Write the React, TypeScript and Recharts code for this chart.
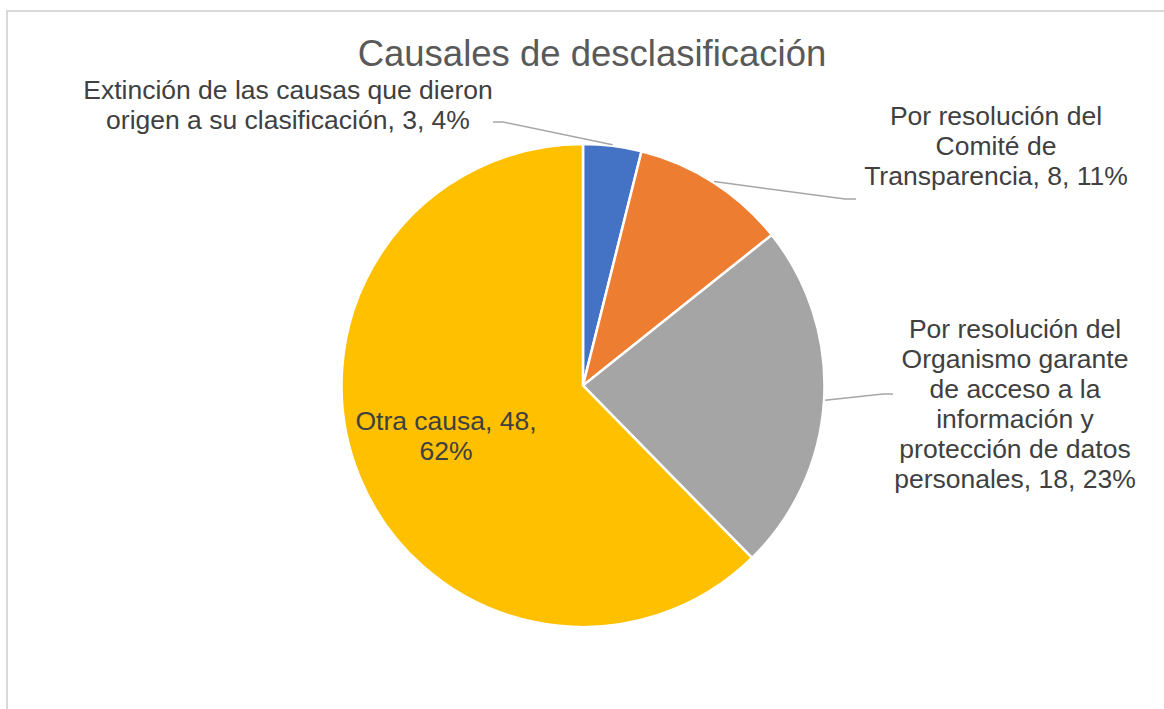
import React from "react";
import { Cell, Pie, PieChart } from "recharts";

// Slice data, clockwise from 12 o'clock (as in the source workbook).
const CATEGORY_LINES = [
  ["Extinción de las causas que dieron", "origen a su clasificación"],
  ["Por resolución del", "Comité de", "Transparencia"],
  [
    "Por resolución del",
    "Organismo garante",
    "de acceso a la",
    "información y",
    "protección de datos",
    "personales",
  ],
  ["Otra causa"],
];
const VALUES = [3, 8, 18, 48];
// Percentages as printed on the chart's data labels.
const PERCENTS = [4, 11, 23, 62];

const TITLE = "Causales de desclasificación";

const COLORS = ["#4472C4", "#ED7D31", "#A5A5A5", "#FFC000"];
const FONT = '"Liberation Sans", Arial, sans-serif';
const LABEL_SIZE = 26.5;
const LINE_H = 30;

// Where Excel put each data label: text center x, first baseline y, and the
// leader line's elbow / end (null = label sits inside the slice).
const LABEL_LAYOUT = [
  { x: 288, y: 99, elbow: [503, 122], end: [493, 122], pctOwnLine: false },
  { x: 996, y: 125, elbow: [845, 199], end: [856, 199], pctOwnLine: false },
  { x: 1015, y: 338, elbow: [883, 394], end: [893, 394], pctOwnLine: false },
  { x: 446, y: 430, elbow: null, end: null, pctOwnLine: true },
];

const data = CATEGORY_LINES.map((lines, i) => ({
  name: lines.join(" "),
  value: VALUES[i],
}));

function labelLines(i: number): string[] {
  const lines = [...CATEGORY_LINES[i]];
  const last = lines.length - 1;
  if (LABEL_LAYOUT[i].pctOwnLine) {
    lines[last] = `${lines[last]}, ${VALUES[i]},`;
    lines.push(`${PERCENTS[i]}%`);
  } else {
    lines[last] = `${lines[last]}, ${VALUES[i]}, ${PERCENTS[i]}%`;
  }
  return lines;
}

const RADIAN = Math.PI / 180;

function renderLabel(props: any) {
  const { cx, cy, midAngle, outerRadius, index } = props;
  const layout = LABEL_LAYOUT[index];
  const lines = labelLines(index);
  let leader = null;
  if (layout.elbow && layout.end) {
    const ex = cx + (outerRadius + 1) * Math.cos(-midAngle * RADIAN);
    const ey = cy + (outerRadius + 1) * Math.sin(-midAngle * RADIAN);
    leader = (
      <polyline
        points={`${ex},${ey} ${layout.elbow[0]},${layout.elbow[1]} ${layout.end[0]},${layout.end[1]}`}
        fill="none"
        stroke="#A6A6A6"
        strokeWidth={1.5}
      />
    );
  }
  return (
    <g key={`lbl-${index}`}>
      {leader}
      <text
        x={layout.x}
        y={layout.y}
        textAnchor="middle"
        fontFamily={FONT}
        fontSize={LABEL_SIZE}
        fill="#404040"
      >
        {lines.map((t, j) => (
          <tspan key={j} x={layout.x} y={layout.y + j * LINE_H}>
            {t}
          </tspan>
        ))}
      </text>
    </g>
  );
}

export default function App() {
  return (
    <div
      style={{
        position: "fixed",
        left: 0,
        top: 0,
        width: 1164,
        height: 709,
        overflow: "hidden",
        background: "#fff",
      }}
    >
      <div
        style={{
          position: "absolute",
          left: 6,
          top: 10,
          width: 1200,
          height: 760,
          border: "2px solid #D9D9D9",
        }}
      />
      <svg
        width={1164}
        height={709}
        style={{ position: "absolute", left: 0, top: 0 }}
      >
        <text
          x={592}
          y={66}
          textAnchor="middle"
          fontFamily={FONT}
          fontSize={36.5}
          fill="#595959"
        >
          {TITLE}
        </text>
      </svg>
      <div style={{ position: "absolute", left: 0, top: 0 }}>
        <PieChart
          width={1164}
          height={709}
          margin={{ top: 0, right: 0, bottom: 0, left: 0 }}
        >
          <Pie
            data={data}
            dataKey="value"
            nameKey="name"
            cx={583}
            cy={385.5}
            outerRadius={241.5}
            startAngle={90}
            endAngle={-270}
            stroke="#FFFFFF"
            strokeWidth={2.5}
            label={renderLabel}
            labelLine={false}
            isAnimationActive={false}
          >
            {data.map((d, i) => (
              <Cell key={d.name} fill={COLORS[i]} />
            ))}
          </Pie>
        </PieChart>
      </div>
    </div>
  );
}
